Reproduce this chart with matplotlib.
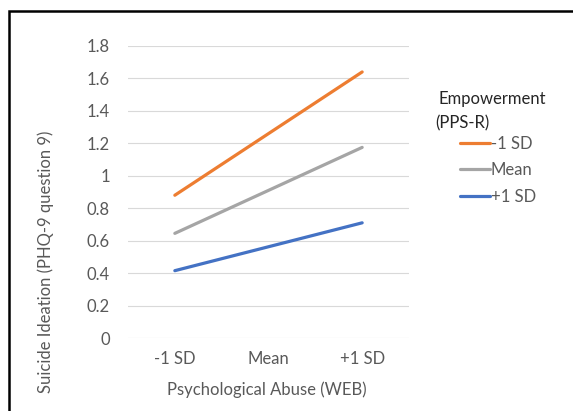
import matplotlib
matplotlib.use("Agg")
import matplotlib.pyplot as plt
from matplotlib.patches import Rectangle

# data
categories = ["-1 SD", "Mean", "+1 SD"]
low_emp = [0.88, 1.26, 1.64]
mean_emp = [0.645, 0.91, 1.175]
high_emp = [0.415, 0.5625, 0.71]
series_names = ["-1 SD", "Mean", "+1 SD"]
y_ticks = [0, 0.2, 0.4, 0.6, 0.8, 1, 1.2, 1.4, 1.6, 1.8]
y_tick_labels = ["0", "0.2", "0.4", "0.6", "0.8", "1", "1.2", "1.4", "1.6", "1.8"]

plt.rcParams['font.family'] = ['Lato', 'DejaVu Sans']
FS = 12

W, H = 573, 411
fig = plt.figure(figsize=(W / 100, H / 100), dpi=100)

def px(x, y):
    return x / W, 1 - y / H

# outer frame (only top and left edges visible in the crop)
fig.patches.append(Rectangle(px(9, 430), (W + 20) / W, 419 / H, transform=fig.transFigure,
                             fill=False, edgecolor='black', linewidth=1.8))

ax = fig.add_axes([128 / W, 1 - 338 / H, (409 - 128) / W, (338 - 46) / H])
x = range(len(categories))
colors = ['#ED7D31', '#A5A5A5', '#4472C4']
for vals, name, c in zip([low_emp, mean_emp, high_emp], series_names, colors):
    ax.plot(x, vals, color=c, linewidth=2.3, solid_capstyle='round', label=name)

ax.set_xlim(-0.5, 2.5)
ax.set_ylim(0, 1.8)
ax.set_yticks(y_ticks)
ax.set_yticklabels(y_tick_labels)
ax.set_xticks(list(x))
ax.set_xticklabels(categories)
ax.grid(axis='y', color='#D9D9D9', linewidth=0.8)
ax.set_axisbelow(True)
for s in ax.spines.values():
    s.set_visible(False)
ax.tick_params(length=0, labelsize=FS, labelcolor='#595959')
ax.tick_params(axis='y', pad=13)
ax.tick_params(axis='x', pad=9)

fig.text(*px(46, 262), "Suicide Ideation (PHQ-9 question 9)", rotation=90,
         ha='center', va='center', fontsize=FS, color='#595959')
fig.text(*px(267, 390), "Psychological Abuse (WEB)", ha='center', va='center',
         fontsize=FS, color='#595959')

fig.text(*px(438, 99), "Empowerment", ha='left', va='center', fontsize=FS, color='#262626')
fig.text(*px(435, 123), "(PPS-R)", ha='left', va='center', fontsize=FS, color='#262626')
leg = ax.legend(loc='upper left', bbox_to_anchor=px(460, 136), bbox_transform=fig.transFigure,
                frameon=False, fontsize=FS, handlelength=1.8, handletextpad=0.05,
                labelspacing=0.62, borderpad=0, borderaxespad=0)
for t in leg.get_texts():
    t.set_color('#595959')

fig.savefig("out.png", dpi=100)
